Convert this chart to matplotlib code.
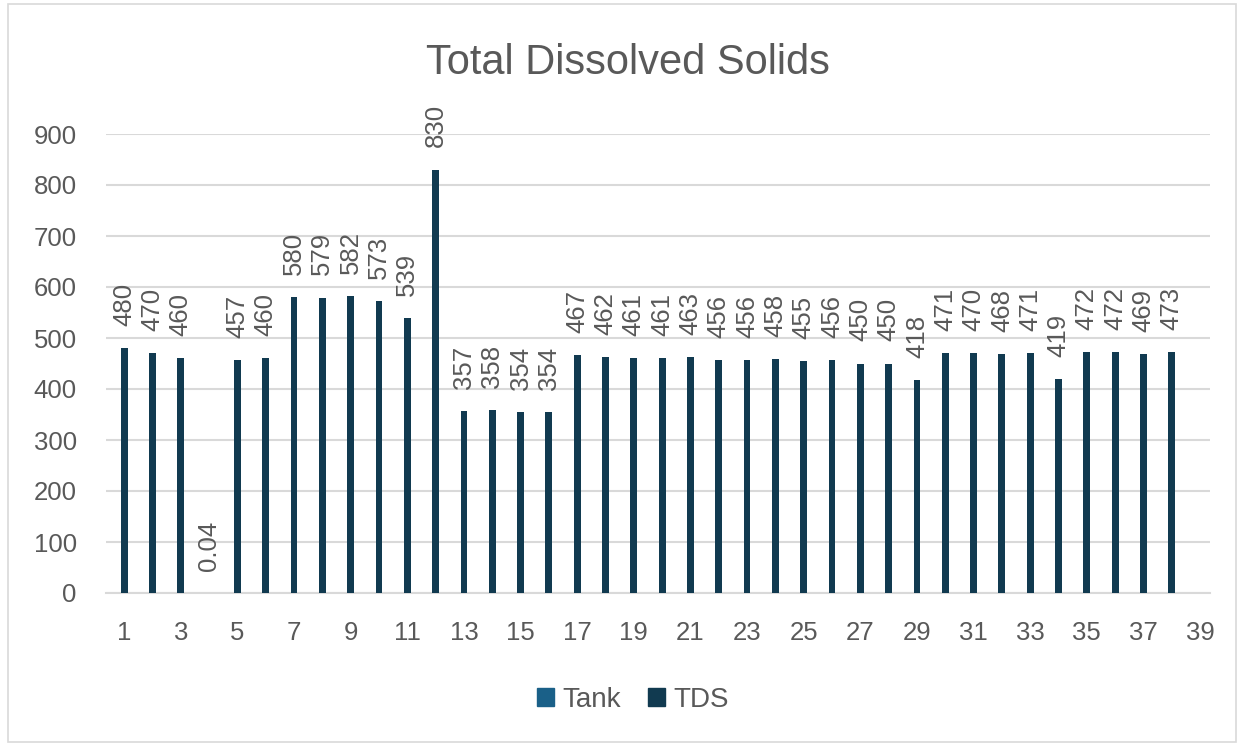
import matplotlib
matplotlib.use("Agg")
import matplotlib.pyplot as plt
from matplotlib.patches import Patch, Rectangle

tank = list(range(1, 39))
tds = [480, 470, 460, 0.04, 457, 460, 580, 579, 582, 573, 539, 830, 357, 358, 354, 354,
       467, 462, 461, 461, 463, 456, 456, 458, 455, 456, 450, 450, 418, 471, 470, 468,
       471, 419, 472, 472, 469, 473]
labels = ["480", "470", "460", "0.04", "457", "460", "580", "579", "582", "573", "539", "830",
          "357", "358", "354", "354", "467", "462", "461", "461", "463", "456", "456", "458",
          "455", "456", "450", "450", "418", "471", "470", "468", "471", "419", "472", "472",
          "469", "473"]
xticks = list(range(1, 40, 2))
yticks = list(range(0, 1000, 100))

plt.rcParams['font.family'] = ['Liberation Sans', 'DejaVu Sans']
txt = '#595959'
bar_col = '#113A50'
tank_col = '#1A6088'
fig = plt.figure(figsize=(12.44, 7.46), dpi=100)
fig.patches.append(Rectangle((8/1244, 4/746), 1228/1244, 738/746, transform=fig.transFigure,
                             fill=False, edgecolor='#D9D9D9', linewidth=1.2))
ax = fig.add_axes([106/1244, 1-593/746, (1210-106)/1244, (593-134)/746])
ax.bar(tank, tds, width=0.24, color=bar_col, zorder=3)
for x, v, l in zip(tank, tds, labels):
    ax.annotate(l, (x, v), xytext=(0, 16), textcoords='offset points', rotation=90,
                ha='center', va='bottom', fontsize=18.5, color=txt, annotation_clip=False)
ax.set_xlim(0.36, 39.35)
ax.set_ylim(0, 900)
ax.set_xticks(xticks)
ax.set_yticks(yticks)
ax.tick_params(length=0, labelsize=18.5, labelcolor=txt)
ax.tick_params(axis='x', pad=20)
ax.tick_params(axis='y', pad=21)
ax.grid(axis='y', color='#D9D9D9', linewidth=1.5, zorder=0)
for s in ['top', 'right', 'left']:
    ax.spines[s].set_visible(False)
ax.spines['bottom'].set_color('#D9D9D9')
ax.spines['bottom'].set_linewidth(1.5)
fig.text(628/1244, 1-63/746, 'Total Dissolved Solids', ha='center', va='center', fontsize=30, color=txt)
handles = [Patch(color=tank_col, label='Tank'), Patch(color=bar_col, label='TDS')]
fig.legend(handles=handles, loc='center', bbox_to_anchor=(633/1244, 1-700/746), ncol=2, frameon=False,
           fontsize=20, labelcolor=txt, handlelength=0.62, handleheight=0.62, handletextpad=0.3, columnspacing=0.95)
fig.savefig('out.png', dpi=100)
